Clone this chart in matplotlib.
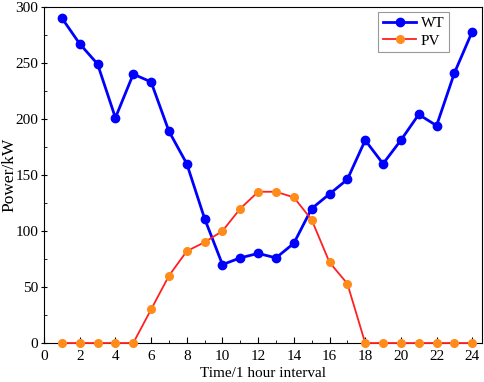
import numpy as np
import matplotlib.pyplot as plt
from matplotlib.ticker import MultipleLocator

plt.rcParams['font.family'] = ['Liberation Serif', 'DejaVu Serif']

hours = list(range(1, 25))
wt = [290, 267, 249, 201, 240, 233, 189, 160, 111, 70, 76, 80,
      76, 89, 120, 133, 146, 181, 160, 181, 204, 194, 241, 278]
pv = [0, 0, 0, 0, 0, 30, 60, 82, 90, 100, 120, 135,
      135, 130, 110, 72, 53, 0, 0, 0, 0, 0, 0, 0]

fig = plt.figure(figsize=(4.84, 3.82), dpi=100)
ax = fig.add_axes([0.091, 0.102, 0.905, 0.88])

ax.plot(hours, wt, '-o', color='#0000ff', lw=2, ms=6, label='WT', clip_on=False, zorder=3)
ax.plot(hours, pv, '-o', color='#ff2020', mfc='#ff8c1a', mec='#ff8c1a', lw=1.3, ms=5.5,
        label='PV', clip_on=False, zorder=3)

ax.set_xlim(0, 24.55)
ax.set_ylim(0, 300)
ax.xaxis.set_major_locator(MultipleLocator(2))
ax.xaxis.set_minor_locator(MultipleLocator(1))
ax.yaxis.set_major_locator(MultipleLocator(50))
ax.yaxis.set_minor_locator(MultipleLocator(25))
ax.tick_params(axis='x', which='major', direction='in', length=4, labelsize=11, pad=5)
ax.tick_params(axis='x', which='minor', direction='in', length=2.5)
ax.tick_params(axis='y', which='major', direction='inout', length=5, labelsize=11, pad=1.5)
ax.tick_params(axis='y', which='minor', direction='in', length=2.5)

ax.set_xlabel('Time/1 hour interval', fontsize=11, labelpad=3)
ax.set_ylabel('Power/kW', fontsize=12.5)
ax.yaxis.set_label_coords(-0.06, 0.5)

leg = ax.legend(loc='upper right', bbox_to_anchor=(0.925, 0.985), borderaxespad=0,
                fontsize=11, fancybox=False, edgecolor='#999999', framealpha=1,
                handlelength=2.2, borderpad=0.3, labelspacing=0.25, handletextpad=0.3)
leg.get_frame().set_linewidth(0.8)

fig.savefig('out.png', dpi=100)
